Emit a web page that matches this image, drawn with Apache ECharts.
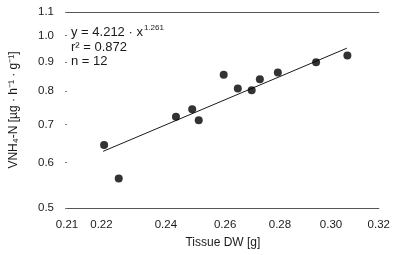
<!DOCTYPE html>
<html>
<head>
<meta charset="utf-8">
<script src="https://cdn.jsdelivr.net/npm/echarts@6/dist/echarts.min.js"></script>
<style>
  html, body { margin: 0; padding: 0; background: #fff; }
  #chart { width: 393px; height: 255px; }
</style>
</head>
<body>
<div id="chart"></div>
<script>
// measured points (tissue dry weight vs. uptake rate)
var tissueDW = [0.2208, 0.2252, 0.2433, 0.2487, 0.2509, 0.2595, 0.2645, 0.2695, 0.2725, 0.2792, 0.2940, 0.3067];
var vnh4 = [0.644, 0.563, 0.722, 0.744, 0.712, 0.855, 0.809, 0.803, 0.839, 0.862, 0.899, 0.923];
// ends of the fitted power line
var fitX = [0.2205, 0.3065];
var fitY = [0.628, 0.951];
var xTicks = [0.21, 0.22, 0.24, 0.26, 0.28, 0.30, 0.32];
var yTicks = [0.5, 0.6, 0.7, 0.8, 0.9, 1.0, 1.1];

var font = "'Liberation Sans', Arial, sans-serif";
var ink = "#1a1a1a";

var chart = echarts.init(document.getElementById("chart"));

var points = tissueDW.map(function (x, i) { return [x, vnh4[i]]; });
var fit = fitX.map(function (x, i) { return [x, fitY[i]]; });

chart.setOption({
  animation: false,
  grid: { left: 60, right: 14, top: 12, bottom: 47 },
  xAxis: [
    {
      type: "log",
      logBase: 10,
      min: 0.21,
      max: 0.32,
      name: "Tissue DW [g]",
      nameLocation: "middle",
      nameGap: 29,
      nameTextStyle: { fontFamily: font, fontSize: 12, color: ink },
      axisLine: { show: true, lineStyle: { color: "#555", width: 1 } },
      axisTick: { show: false, customValues: xTicks },
      axisLabel: {
        customValues: xTicks,
        margin: 11,
        fontFamily: font,
        fontSize: 11.5,
        color: ink,
        formatter: function (v) { return v.toFixed(2); }
      },
      splitLine: { show: false }
    },
    {
      type: "log",
      logBase: 10,
      min: 0.21,
      max: 0.32,
      position: "top",
      axisLine: { show: true, lineStyle: { color: "#555", width: 1 } },
      axisTick: { show: false },
      axisLabel: { show: false },
      splitLine: { show: false }
    }
  ],
  yAxis: {
    type: "log",
    logBase: 10,
    min: 0.5,
    max: 1.1,
    name: "VNH\u2084-N [\u00b5g \u00b7 h\u207b\u00b9 \u00b7 g\u207b\u00b9]",
    nameLocation: "middle",
    nameGap: 47,
    nameRotate: 90,
    nameTextStyle: { fontFamily: font, fontSize: 12, color: ink },
    axisLine: { show: false },
    axisTick: { show: true, customValues: yTicks, length: 2, lineStyle: { color: "#777" } },
    axisLabel: {
      customValues: yTicks,
      margin: 13,
      fontFamily: font,
      fontSize: 11.5,
      color: ink,
      formatter: function (v) { return v.toFixed(1); }
    },
    splitLine: { show: false }
  },
  graphic: [
    {
      type: "text",
      left: 71,
      top: 24,
      style: {
        text: "{a|y = 4.212 \u00b7 x}{s|1.261}\n{a|r\u00b2 = 0.872}\n{a|n = 12}",
        fill: ink,
        rich: {
          a: { fontFamily: font, fontSize: 13, lineHeight: 14.5, fill: ink },
          s: { fontFamily: font, fontSize: 8, lineHeight: 14.5, fill: ink, padding: [0, 0, 9, 1] }
        }
      }
    }
  ],
  series: [
    {
      type: "line",
      data: fit,
      symbol: "none",
      lineStyle: { color: ink, width: 1 },
      z: 2
    },
    {
      type: "scatter",
      data: points,
      symbol: "circle",
      symbolSize: 8,
      itemStyle: { color: "#000" },
      z: 3
    }
  ]
});
</script>
</body>
</html>
